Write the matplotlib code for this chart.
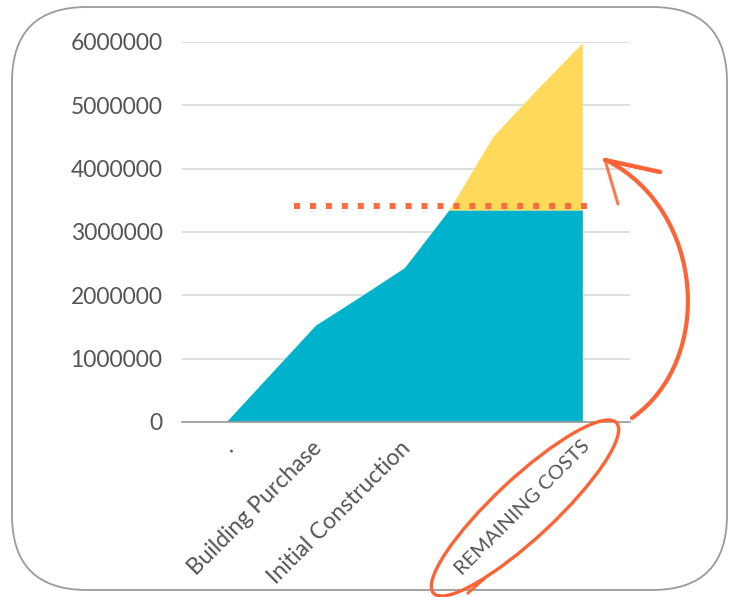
import numpy as np
import matplotlib.pyplot as plt
import matplotlib.transforms as mtrans
from matplotlib.patches import FancyBboxPatch, Ellipse, PathPatch
from matplotlib.path import Path

plt.rcParams['font.family'] = ['Lato', 'DejaVu Sans']

# data
categories = [".", "", "Building Purchase", "", "Initial Construction", "", "", "", "REMAINING COSTS"]
spent = [0, 760000, 1520000, 1970000, 2430000, 3340000, 3340000, 3340000, 3340000]
remaining = [0, 0, 0, 0, 0, 0, 1170000, 1920000, 2640000]
budget_line = 3415000
y_ticks = [0, 1000000, 2000000, 3000000, 4000000, 5000000, 6000000]

teal = "#00B2CB"
yellow = "#FFD95A"
red = "#FE6235"
grey_txt = "#555555"

fig = plt.figure(figsize=(7.39, 5.97), dpi=100)
ax = fig.add_axes([182/739, 1-422/597, 448/739, 380/597])

x = np.arange(len(categories))
ax.stackplot(x, spent, remaining, colors=[teal, yellow], zorder=2)

# dotted budget line
ax.plot([1.5, 8.15], [budget_line, budget_line], color="#FF6A3D", lw=4.3,
        linestyle=(0, (1, 1.67)), solid_capstyle="butt", dash_capstyle="butt",
        zorder=3, clip_on=False)

ax.set_xlim(-1.01, 9.06)
ax.set_ylim(0, 6000000)
ax.set_yticks(y_ticks)
ax.set_yticklabels([f"{v:d}" for v in y_ticks])
ax.set_xticks(x)
ax.set_xticklabels(categories, rotation=45, ha="right")
ax.tick_params(axis="y", length=0, pad=14, labelsize=16.5, labelcolor=grey_txt)
ax.tick_params(axis="x", length=0, pad=11, labelsize=16.5, labelcolor=grey_txt)

# nudge the rotated labels to the right like the original
shift = mtrans.ScaledTranslation(10/100, 0, fig.dpi_scale_trans)
for lbl in ax.get_xticklabels():
    lbl.set_transform(lbl.get_transform() + shift)
    if lbl.get_text().isupper():
        lbl.set_fontsize(14.5)

ax.grid(axis="y", color="#d9d9d9", lw=1.2, zorder=0)
ax.set_axisbelow(True)
for s in ["top", "right", "left"]:
    ax.spines[s].set_visible(False)
ax.spines["bottom"].set_color("#9a9a9a")
ax.spines["bottom"].set_linewidth(1.2)
ax.spines["bottom"].set_zorder(4)

# overlay in pixel coordinates for border and hand-drawn marks
ov = fig.add_axes([0, 0, 1, 1], zorder=5)
ov.set_xlim(0, 739)
ov.set_ylim(597, 0)
ov.axis("off")
ov.patch.set_alpha(0)

border = FancyBboxPatch((12, 7), 715, 583, boxstyle="round,pad=0,rounding_size=75",
                        fill=False, edgecolor="#9b9b9b", lw=1.3)
ov.add_patch(border)

# curved arrow
verts = [(632, 418), (715, 360), (705, 210), (606, 160)]
codes = [Path.MOVETO, Path.CURVE4, Path.CURVE4, Path.CURVE4]
ov.add_patch(PathPatch(Path(verts, codes), fill=False, edgecolor=red, lw=3.0,
                       capstyle="round"))
ov.plot([605, 660], [160, 172], color=red, lw=3.2, solid_capstyle="round")
ov.plot([605, 618], [160, 204], color=red, lw=2.2, solid_capstyle="round", alpha=0.85)

# ellipse around remaining costs
ov.add_patch(Ellipse((525, 508), width=250, height=60, angle=-43, fill=False,
                     edgecolor=red, lw=2.4))
ov.plot([468, 484], [593, 579], color=red, lw=2.0)

fig.savefig("out.png", dpi=100)
